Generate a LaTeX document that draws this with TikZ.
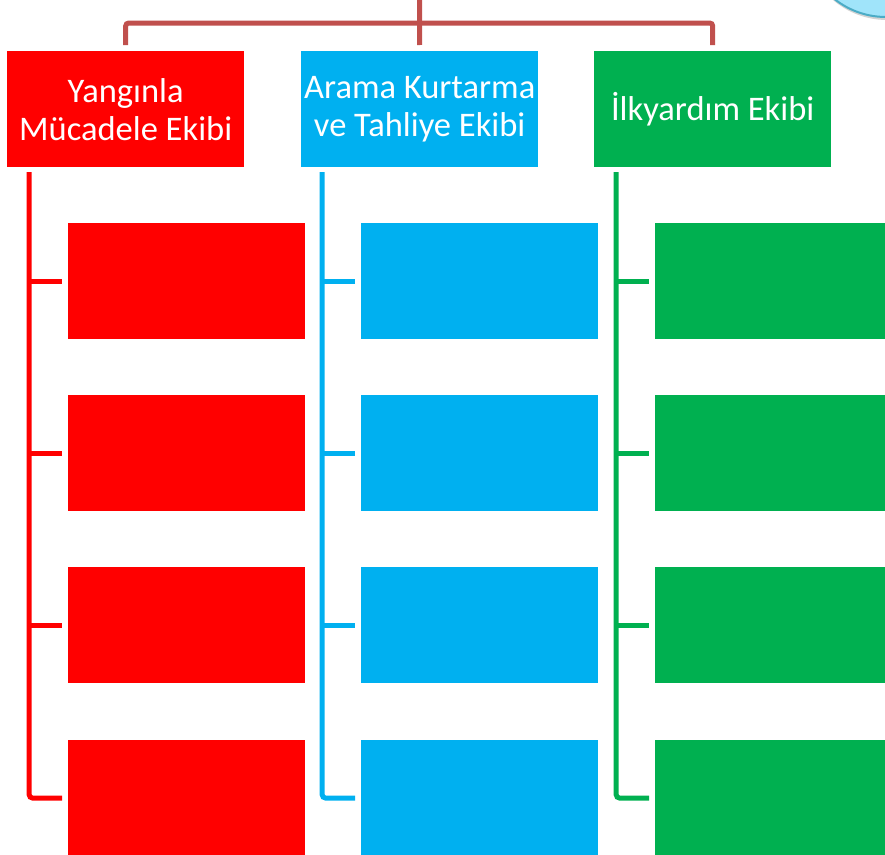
\documentclass[tikz,border=0pt]{standalone}
\usepackage{fontspec}
\setmainfont{Carlito}
\usetikzlibrary{shadows}
\definecolor{firered}{RGB}{255,0,0}
\definecolor{rescueblue}{RGB}{0,176,240}
\definecolor{aidgreen}{RGB}{0,176,80}
\definecolor{trunk}{RGB}{192,80,77}
\definecolor{bubblefill}{RGB}{160,228,250}
\definecolor{bubbleline}{RGB}{75,172,198}
\begin{document}
\begin{tikzpicture}[x=1pt, y=-1pt,
    team/.style={anchor=north west, minimum width=237pt, minimum height=116pt, inner sep=0pt,
      text=white, align=center, font=\fontsize{34.5}{38}\selectfont},
    duty/.style={anchor=north west, minimum width=237pt, minimum height=116pt, inner sep=0pt},
    branch/.style={line width=5pt}]
    \useasboundingbox (0, 0) rectangle (885, 854);
    \clip (0, 0) rectangle (885, 854);
    % team heads
    \node[team, fill=firered] (fire) at (7, 51) {Yangınla\\Mücadele Ekibi};
    \node[team, fill=rescueblue] (rescue) at (301, 51) {Arama Kurtarma\\ve Tahliye Ekibi};
    \node[team, fill=aidgreen] (aid) at (594, 51) {İlkyardım Ekibi};
    % empty duty boxes
    \node[duty, fill=firered] (fire1) at (68, 223) {};
    \node[duty, fill=firered] (fire2) at (68, 395) {};
    \node[duty, fill=firered] (fire3) at (68, 567) {};
    \node[duty, fill=firered] (fire4) at (68, 740) {};
    \node[duty, fill=rescueblue] (rescue1) at (361, 223) {};
    \node[duty, fill=rescueblue] (rescue2) at (361, 395) {};
    \node[duty, fill=rescueblue] (rescue3) at (361, 567) {};
    \node[duty, fill=rescueblue] (rescue4) at (361, 740) {};
    \node[duty, fill=aidgreen] (aid1) at (655, 223) {};
    \node[duty, fill=aidgreen] (aid2) at (655, 395) {};
    \node[duty, fill=aidgreen] (aid3) at (655, 567) {};
    \node[duty, fill=aidgreen] (aid4) at (655, 740) {};
    % top connector
    \coordinate (parent) at (419.5, 0);
    \draw[branch, trunk] (parent) -- ([yshift=6pt]rescue.north);
    \draw[branch, trunk, rounded corners=3pt] ([yshift=6pt]fire.north) |- ([yshift=28pt]rescue.north) -| ([yshift=6pt]aid.north);
    % trees
    \coordinate (fireroot) at (29, 172);
    \coordinate (rescueroot) at (322, 172);
    \coordinate (aidroot) at (616, 172);
    \draw[branch, firered, rounded corners=4pt] (fireroot) |- ([xshift=-6pt]fire4.west);
    \draw[branch, firered] (fireroot |- fire1.west) -- ([xshift=-6pt]fire1.west);
    \draw[branch, firered] (fireroot |- fire2.west) -- ([xshift=-6pt]fire2.west);
    \draw[branch, firered] (fireroot |- fire3.west) -- ([xshift=-6pt]fire3.west);
    \draw[branch, rescueblue, rounded corners=4pt] (rescueroot) |- ([xshift=-6pt]rescue4.west);
    \draw[branch, rescueblue] (rescueroot |- rescue1.west) -- ([xshift=-6pt]rescue1.west);
    \draw[branch, rescueblue] (rescueroot |- rescue2.west) -- ([xshift=-6pt]rescue2.west);
    \draw[branch, rescueblue] (rescueroot |- rescue3.west) -- ([xshift=-6pt]rescue3.west);
    \draw[branch, aidgreen, rounded corners=4pt] (aidroot) |- ([xshift=-6pt]aid4.west);
    \draw[branch, aidgreen] (aidroot |- aid1.west) -- ([xshift=-6pt]aid1.west);
    \draw[branch, aidgreen] (aidroot |- aid2.west) -- ([xshift=-6pt]aid2.west);
    \draw[branch, aidgreen] (aidroot |- aid3.west) -- ([xshift=-6pt]aid3.west);
    % corner bubble
    \draw[bubbleline, line width=2pt, fill=bubblefill,
      drop shadow={opacity=0.35, shadow xshift=1pt, shadow yshift=-3pt}] (886, -66) circle (83pt);
  \end{tikzpicture}
\end{document}
